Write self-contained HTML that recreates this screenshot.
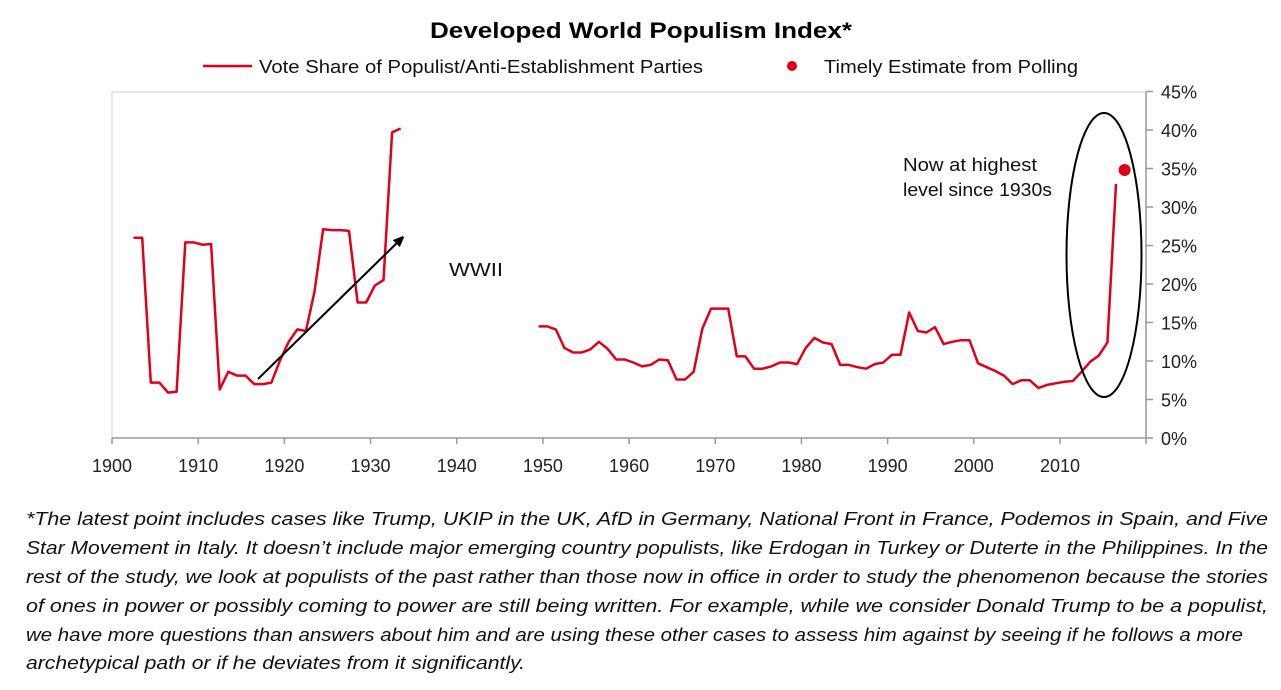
<!DOCTYPE html>
<html><head><meta charset="utf-8"><style>
html,body{margin:0;padding:0;background:#fff;}
svg{display:block;font-family:"Liberation Sans",sans-serif;}
</style></head><body>
<svg id="chart" width="1281" height="690" viewBox="0 0 1281 690" xmlns="http://www.w3.org/2000/svg">
<text x="430" y="38" font-size="22" font-weight="bold" fill="#000" textLength="422" lengthAdjust="spacingAndGlyphs">Developed World Populism Index*</text>
<g>
<line x1="203" y1="66" x2="252" y2="66" stroke="#e0001b" stroke-width="2.5"/>
<text x="259" y="73" font-size="18" fill="#111" textLength="444" lengthAdjust="spacingAndGlyphs">Vote Share of Populist/Anti-Establishment Parties</text>
<circle cx="792" cy="66" r="5" fill="#e0001b"/>
<text x="824" y="73" font-size="18" fill="#111" textLength="254" lengthAdjust="spacingAndGlyphs">Timely Estimate from Polling</text>
</g>
<g id="axes"></g>
<g id="marks"></g>
<g>
<text x="449" y="276" font-size="18" fill="#111" textLength="54" lengthAdjust="spacingAndGlyphs">WWII</text>
<text x="903" y="171" font-size="18" fill="#111" textLength="134" lengthAdjust="spacingAndGlyphs">Now at highest</text>
<text x="903" y="196" font-size="18" fill="#111" textLength="149" lengthAdjust="spacingAndGlyphs">level since 1930s</text>
<ellipse cx="1104" cy="255" rx="37.5" ry="142" fill="none" stroke="#000" stroke-width="2"/>
<defs><marker id="ah" markerWidth="10" markerHeight="10" refX="8" refY="5" orient="auto" markerUnits="userSpaceOnUse"><path d="M0,0 L12,5 L0,10 z" fill="#000"/></marker></defs>
</g>
<g font-style="italic" font-size="18" fill="#111">
<text x="26" y="525" textLength="1242" lengthAdjust="spacingAndGlyphs">*The latest point includes cases like Trump, UKIP in the UK, AfD in Germany, National Front in France, Podemos in Spain, and Five</text>
<text x="26" y="554" textLength="1242" lengthAdjust="spacingAndGlyphs">Star Movement in Italy. It doesn’t include major emerging country populists, like Erdogan in Turkey or Duterte in the Philippines. In the</text>
<text x="26" y="583" textLength="1242" lengthAdjust="spacingAndGlyphs">rest of the study, we look at populists of the past rather than those now in office in order to study the phenomenon because the stories</text>
<text x="26" y="612" textLength="1242" lengthAdjust="spacingAndGlyphs">of ones in power or possibly coming to power are still being written.  For example, while we consider Donald Trump to be a populist,</text>
<text x="26" y="641" textLength="1217" lengthAdjust="spacingAndGlyphs">we have more questions than answers about him and are using these other cases to assess him against by seeing if he follows a more</text>
<text x="26" y="669" textLength="499" lengthAdjust="spacingAndGlyphs">archetypical path or if he deviates from it significantly.</text>
</g>
</svg>
<script>
const preYears = [1902,1903,1904,1905,1906,1907,1908,1909,1910,1911,1912,1913,1914,1915,1916,1917,1918,1919,1920,1921,1922,1923,1924,1925,1926,1927,1928,1929,1930,1931,1932,1933];
const preValues = [26.0,26.0,7.2,7.2,5.9,6.0,25.4,25.4,25.1,25.2,6.3,8.6,8.1,8.1,7.0,7.0,7.2,10.1,12.5,14.1,13.9,19.0,27.1,27.0,27.0,26.9,17.6,17.6,19.8,20.5,39.7,40.2];
const postYears = [1949,1950,1951,1952,1953,1954,1955,1956,1957,1958,1959,1960,1961,1962,1963,1964,1965,1966,1967,1968,1969,1970,1971,1972,1973,1974,1975,1976,1977,1978,1979,1980,1981,1982,1983,1984,1985,1986,1987,1988,1989,1990,1991,1992,1993,1994,1995,1996,1997,1998,1999,2000,2001,2002,2003,2004,2005,2006,2007,2008,2009,2010,2011,2012,2013,2014,2015,2016];
const postValues = [14.5,14.5,14.1,11.7,11.1,11.1,11.5,12.5,11.6,10.2,10.2,9.8,9.3,9.5,10.2,10.1,7.6,7.6,8.6,14.2,16.8,16.8,16.8,10.6,10.6,9.0,9.0,9.3,9.8,9.8,9.6,11.7,13.0,12.4,12.2,9.5,9.5,9.2,9.0,9.6,9.8,10.8,10.8,16.3,13.9,13.7,14.4,12.2,12.5,12.7,12.7,9.7,9.2,8.7,8.1,7.0,7.5,7.5,6.5,6.9,7.1,7.3,7.4,8.6,9.9,10.7,12.4,33.0];
const pollYear = [2017];
const pollValue = [34.8];
const xTicks = [1900,1910,1920,1930,1940,1950,1960,1970,1980,1990,2000,2010];
const yTicks = [0,5,10,15,20,25,30,35,40,45];

const NS = "http://www.w3.org/2000/svg";
const X0 = 112, PX = 8.618, Y0 = 438, PY = 7.7;
function xs(y){ return X0 + (y - 1900) * PX; }
function xp(y){ return xs(y + 0.5); }
function ys(v){ return Y0 - v * PY; }
function mk(tag, attrs, parent){ const e = document.createElementNS(NS, tag); for (const k in attrs) e.setAttribute(k, attrs[k]); parent.appendChild(e); return e; }

const axes = document.getElementById('axes');
const marks = document.getElementById('marks');
const frame = mk('path', {d:`M${xs(1900)},${ys(0)} V92 H1146 V${ys(0)} Z`, fill:'none', stroke:'#d0d0d0', 'stroke-width':1}, axes);


const xAxis = mk('line', {x1:xs(1900), y1:Y0, x2:1146, y2:Y0, stroke:'#999', 'stroke-width':1.5}, axes);


const yAxis = mk('line', {x1:1146, y1:92, x2:1146, y2:Y0 + 6, stroke:'#999', 'stroke-width':1.5}, axes);


xTicks.forEach(t => {
  const tk = mk('line', {x1:xs(t), y1:Y0, x2:xs(t), y2:Y0 + 6, stroke:'#999', 'stroke-width':1.5}, axes);
  
  
  const lb = mk('text', {x:xs(t), y:Y0 + 34, 'font-size':18, 'text-anchor':'middle', fill:'#222'}, axes);
  lb.textContent = t;
  
  
});
yTicks.forEach(t => {
  const tk = mk('line', {x1:1146, y1:ys(t), x2:1153, y2:ys(t), stroke:'#999', 'stroke-width':1.5}, axes);
  
  
  const lb = mk('text', {x:1161, y:ys(t) + 7, 'font-size':18, fill:'#222'}, axes);
  lb.textContent = t + '%';
  
  
});
function series(years, vals, name){
  const d = years.map((y, i) => (i ? 'L' : 'M') + xp(y).toFixed(1) + ',' + ys(vals[i]).toFixed(1)).join(' ');
  const p = mk('path', {d:d, fill:'none', stroke:'#e0001b', 'stroke-width':2.5, 'stroke-linejoin':'round'}, marks);
  
  
}
series(preYears, preValues, 'line-prewar');
series(postYears, postValues, 'line-postwar');
pollYear.forEach((y, i) => {
  const c = mk('circle', {cx:xp(y), cy:ys(pollValue[i]), r:6, fill:'#e0001b'}, marks);
  
  
});
const arrow = mk('line', {x1:258, y1:379, x2:402, y2:238, stroke:'#000', 'stroke-width':2, 'marker-end':'url(#ah)'}, marks);


</script>
</body></html>
